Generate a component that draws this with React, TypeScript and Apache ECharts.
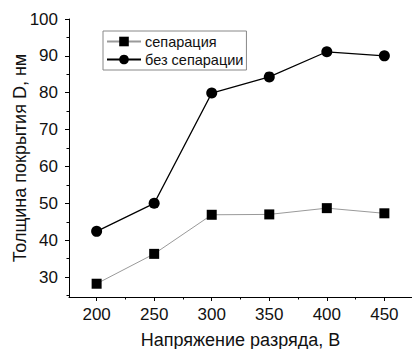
import React, { useEffect, useRef } from "react";
import * as echarts from "echarts";

const voltages = [200, 250, 300, 350, 400, 450];
const separation = [28.2, 36.3, 46.9, 47.0, 48.7, 47.3];
const noSeparation = [42.4, 50.0, 79.9, 84.3, 91.1, 90.0];
const xMajor = [200, 250, 300, 350, 400, 450];
const xMinor = [225, 275, 325, 375, 425];
const yMajor = [30, 40, 50, 60, 70, 80, 90, 100];
const yMinor = [25, 35, 45, 55, 65, 75, 85, 95];
const seriesNames = ["сепарация", "без сепарации"];

const FONT = "'Liberation Sans', Arial, sans-serif";

export default function App() {
  const ref = useRef<HTMLDivElement>(null);
  useEffect(() => {
    if (!ref.current) return;
    const chart = echarts.init(ref.current, null, { renderer: "svg" });
    const xRange = { min: 176, max: 474 };
    const yRange = { min: 24.6, max: 100 };
    chart.setOption({
      animation: false,
      backgroundColor: "#ffffff",
      textStyle: { fontFamily: FONT },
      grid: { left: 69, right: 0, top: 19, bottom: 52, containLabel: false, outerBoundsMode: "none" },
      legend: {
        data: seriesNames,
        orient: "vertical",
        left: 103,
        top: 31,
        itemWidth: 34,
        itemHeight: 12,
        itemGap: 3,
        padding: [3, 3, 3, 3],
        borderColor: "#888",
        borderWidth: 1,
        borderRadius: 0,
        textStyle: { fontSize: 14.5, color: "#111", fontFamily: FONT, lineHeight: 14.5, padding: [0, 0, 0, -1] },
      },
      xAxis: [
        {
          type: "value",
          ...xRange,
          name: "Напряжение разряда, B",
          nameLocation: "middle",
          nameGap: 34,
          nameMoveOverlap: false,
          nameTextStyle: { fontSize: 18, color: "#111", fontFamily: FONT },
          axisLine: { show: true, lineStyle: { color: "#000", width: 1 } },
          axisTick: { show: true, customValues: xMajor, length: 4, lineStyle: { color: "#000" } },
          axisLabel: { customValues: xMajor, fontSize: 17, color: "#111", margin: 9, fontFamily: FONT },
          splitLine: { show: false },
        },
        {
          type: "value",
          ...xRange,
          position: "bottom",
          axisLine: { show: false },
          axisTick: { show: true, customValues: xMinor, length: 2.5, lineStyle: { color: "#000" } },
          axisLabel: { show: false },
          splitLine: { show: false },
        },
      ],
      yAxis: [
        {
          type: "value",
          ...yRange,
          name: "Толщина покрытия D, нм",
          nameLocation: "middle",
          nameGap: 40,
          nameMoveOverlap: false,
          nameTextStyle: { fontSize: 18, color: "#111", fontFamily: FONT },
          axisLine: { show: true, lineStyle: { color: "#000", width: 1 } },
          axisTick: { show: true, customValues: yMajor, length: 4, lineStyle: { color: "#000" } },
          axisLabel: { customValues: yMajor, fontSize: 17, color: "#111", margin: 11, fontFamily: FONT },
          splitLine: { show: false },
        },
        {
          type: "value",
          ...yRange,
          position: "left",
          axisLine: { show: false },
          axisTick: { show: true, customValues: yMinor, length: 2.5, lineStyle: { color: "#000" } },
          axisLabel: { show: false },
          splitLine: { show: false },
        },
      ],
      series: [
        {
          name: seriesNames[0],
          type: "line",
          xAxisIndex: 0,
          yAxisIndex: 0,
          data: voltages.map((v, i) => [v, separation[i]]),
          symbol: "rect",
          symbolSize: 10,
          itemStyle: { color: "#000" },
          lineStyle: { color: "#9a9a9a", width: 1 },
        },
        {
          name: seriesNames[1],
          type: "line",
          xAxisIndex: 0,
          yAxisIndex: 0,
          data: voltages.map((v, i) => [v, noSeparation[i]]),
          symbol: "circle",
          symbolSize: 11,
          itemStyle: { color: "#000" },
          lineStyle: { color: "#000", width: 1.2 },
        },
      ],
    });
    return () => chart.dispose();
  }, []);
  return (
    <div
      ref={ref}
      style={{ width: 412, height: 349, position: "fixed", left: 0, top: 0 }}
    />
  );
}
